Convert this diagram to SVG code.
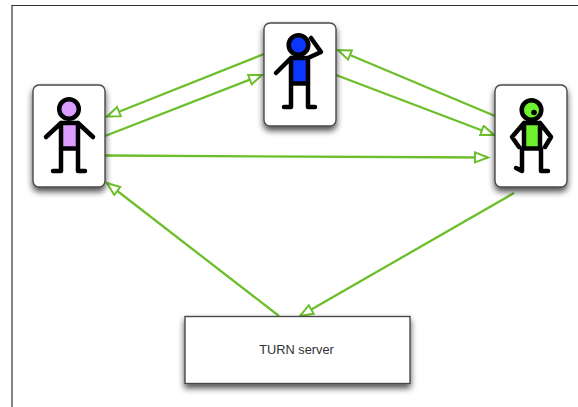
<svg xmlns="http://www.w3.org/2000/svg" width="578" height="407" viewBox="0 0 578 407">
<style>
.card{fill:#fff;stroke:#4a4a4a;stroke-width:1.4;filter:url(#sh)}
.fig{fill:none;stroke:#000;stroke-width:4.500;stroke-linecap:round;stroke-linejoin:round}
.c{fill:none;stroke:#6cbf2a;stroke-width:2.300}
.t{font:12.800px "Liberation Sans",Arial,sans-serif;fill:#333;text-anchor:middle}
</style>
<defs>
<filter id="sh" x="-20%" y="-20%" width="140%" height="140%"><feDropShadow dx="0" dy="4" stdDeviation="3" flood-color="#000" flood-opacity="0.7"/></filter>
<marker id="a" markerUnits="userSpaceOnUse" markerWidth="18" markerHeight="14" refX="14" refY="6" orient="auto"><path d="M1 1 L14 6 L1 11 Z" fill="#fff" stroke="#6cbf2a" stroke-width="2"/></marker>
</defs>
<rect width="578" height="407" fill="#fff"/>
<path d="M12 407V5.500H578" fill="none" stroke="#333" stroke-width="1.200"/>
<g id="connectors">
<path class="c" marker-end="url(#a)" d="M264 54L107 116.500"/>
<path class="c" marker-end="url(#a)" d="M105 136L262 75"/>
<path class="c" marker-end="url(#a)" d="M336 75L494 135"/>
<path class="c" marker-end="url(#a)" d="M495 116L338 50"/>
<path class="c" marker-end="url(#a)" d="M105 155.500L488 157.500"/>
<path class="c" marker-end="url(#a)" d="M279 316L107 183"/>
<path class="c" marker-end="url(#a)" d="M514 193L300 316"/>
</g>
<g id="left-person">
<rect class="card" x="33" y="85" width="72" height="102" rx="6"/>
<rect x="61" y="123" width="17" height="25" fill="#dd9cff"/>
<circle cx="69" cy="109" r="9.800" fill="#dd9cff" stroke="#000" stroke-width="4.500"/>
<path class="fig" d="M61 123H78M61 123V171M78 123V171M61 148.500H78M61 123L46 137M78 123L93 137M53 171H61M78 171H85"/>
</g>
<g id="middle-person">
<rect class="card" x="264" y="23" width="72" height="103" rx="6"/>
<rect x="291" y="58" width="17" height="25" fill="#0a36ff"/>
<circle cx="298.500" cy="45" r="9.800" fill="#0a36ff" stroke="#000" stroke-width="4.500"/>
<path class="fig" d="M291 58H308M291 58V107M308 58V107M291 83.500H308M291 58L276 73M308 58L321 52L311 38M284 107H291M308 107H315"/>
</g>
<g id="right-person">
<rect class="card" x="495" y="85" width="72" height="102" rx="6"/>
<rect x="524" y="123" width="16" height="25" fill="#6ff22e"/>
<circle cx="531.500" cy="110" r="9.800" fill="#6ff22e" stroke="#000" stroke-width="4.500"/>
<circle cx="534" cy="112.500" r="2.800" fill="#000"/>
<path class="fig" d="M524 123H540M524 123V148M540 123V148M522 148.500H541M522 148.500V171M541 148.500V171M524 123L512 137L519 147M540 123L551 137L545 147M516 168L522 171M541 171H548"/>
</g>
<g id="turn-server">
<rect class="card" x="185" y="316.500" width="225" height="67"/>
<text class="t" x="296.500" y="353.500">TURN server</text>
</g>
</svg>
